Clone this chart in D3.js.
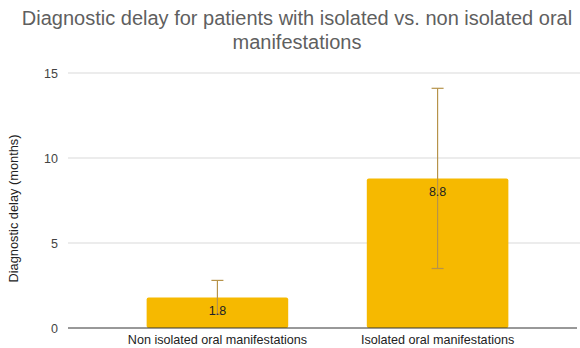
<!DOCTYPE html>
<html>
<head>
<meta charset="utf-8">
<script src="https://cdn.jsdelivr.net/npm/d3@7"></script>
<style>
  body { margin: 0; background: #fff; }
  svg { display: block; font-family: Arial, "Liberation Sans", sans-serif; }
</style>
</head>
<body>
<div id="chart"></div>
<script>
// chart data
const categories = ["Non isolated oral manifestations", "Isolated oral manifestations"];
const values = [1.8, 8.8];
const errLow = [0.8, 3.5];
const errHigh = [2.8, 14.1];
const yTicks = [0, 5, 10, 15];
const titleLines = ["Diagnostic delay for patients with isolated vs. non isolated oral", "manifestations"];
const yTitle = "Diagnostic delay (months)";

const width = 580, height = 348;
const plot = { left: 68, right: 580, top: 73, bottom: 328 };

const svg = d3.select("#chart").append("svg")
    .attr("width", width)
    .attr("height", height);

// scales
const x = d3.scaleBand()
    .domain(categories)
    .range([107, 548])
    .paddingInner(0.357)
    .paddingOuter(0.18);

const y = d3.scaleLinear()
    .domain([0, 15])
    .range([plot.bottom, plot.top]);

// title
svg.append("g").selectAll("text")
    .data(titleLines)
    .enter()
    .append("text")
    .attr("x", 297)
    .attr("y", (d, i) => 25 + i * 24)
    .attr("text-anchor", "middle")
    .style("font-size", "20px")
    .style("fill", "#5f5f5f")
    .text(d => d);

// gridlines
svg.append("g").selectAll("line")
    .data(yTicks.filter(d => d > 0))
    .enter()
    .append("line")
    .attr("x1", plot.left)
    .attr("x2", plot.right)
    .attr("y1", d => y(d))
    .attr("y2", d => y(d))
    .attr("stroke", "#d9d9d9")
    .attr("stroke-width", 1);

// y axis labels
const yAxis = svg.append("g")
    .attr("transform", `translate(${plot.left}, 0)`)
    .call(d3.axisLeft(y).tickValues(yTicks).tickSize(0).tickPadding(10));
yAxis.select(".domain").remove();
yAxis.selectAll("text")
    .style("font-size", "12.5px")
    .style("font-family", "Arial, 'Liberation Sans', sans-serif")
    .style("fill", "#444");

// y axis title
svg.append("text")
    .attr("transform", `translate(18, ${(plot.top + plot.bottom) / 2 + 8}) rotate(-90)`)
    .attr("text-anchor", "middle")
    .style("font-size", "12.8px")
    .style("fill", "#222")
    .text(yTitle);

// bars
svg.append("g").selectAll("rect")
    .data(values)
    .enter()
    .append("rect")
    .attr("x", (d, i) => x(categories[i]))
    .attr("y", d => y(d))
    .attr("width", x.bandwidth())
    .attr("height", d => y(0) - y(d))
    .attr("rx", 2)
    .attr("fill", "#f6b900");

// error bars
const capW = 6;
const err = svg.append("g")
    .attr("stroke", "#b6934a")
    .attr("stroke-width", 1.2);
values.forEach((v, i) => {
    const cx = x(categories[i]) + x.bandwidth() / 2;
    err.append("line")
        .attr("x1", cx).attr("x2", cx)
        .attr("y1", y(errLow[i])).attr("y2", y(errHigh[i]));
    [errLow[i], errHigh[i]].forEach(e => {
        err.append("line")
            .attr("x1", cx - capW).attr("x2", cx + capW)
            .attr("y1", y(e)).attr("y2", y(e));
    });
});

// data labels
svg.append("g").selectAll("text")
    .data(values)
    .enter()
    .append("text")
    .attr("x", (d, i) => x(categories[i]) + x.bandwidth() / 2)
    .attr("y", d => y(d) + 18)
    .attr("text-anchor", "middle")
    .style("font-size", "12.5px")
    .style("fill", "#222")
    .text(d => d.toFixed(1));

// baseline
svg.append("line")
    .attr("x1", plot.left)
    .attr("x2", 577)
    .attr("y1", y(0))
    .attr("y2", y(0))
    .attr("stroke", "#333")
    .attr("stroke-width", 1);

// x axis labels
svg.append("g").selectAll("text")
    .data(categories)
    .enter()
    .append("text")
    .attr("x", d => x(d) + x.bandwidth() / 2)
    .attr("y", 344)
    .attr("text-anchor", "middle")
    .style("font-size", "12.6px")
    .style("fill", "#222")
    .text(d => d);
</script>
</body>
</html>
